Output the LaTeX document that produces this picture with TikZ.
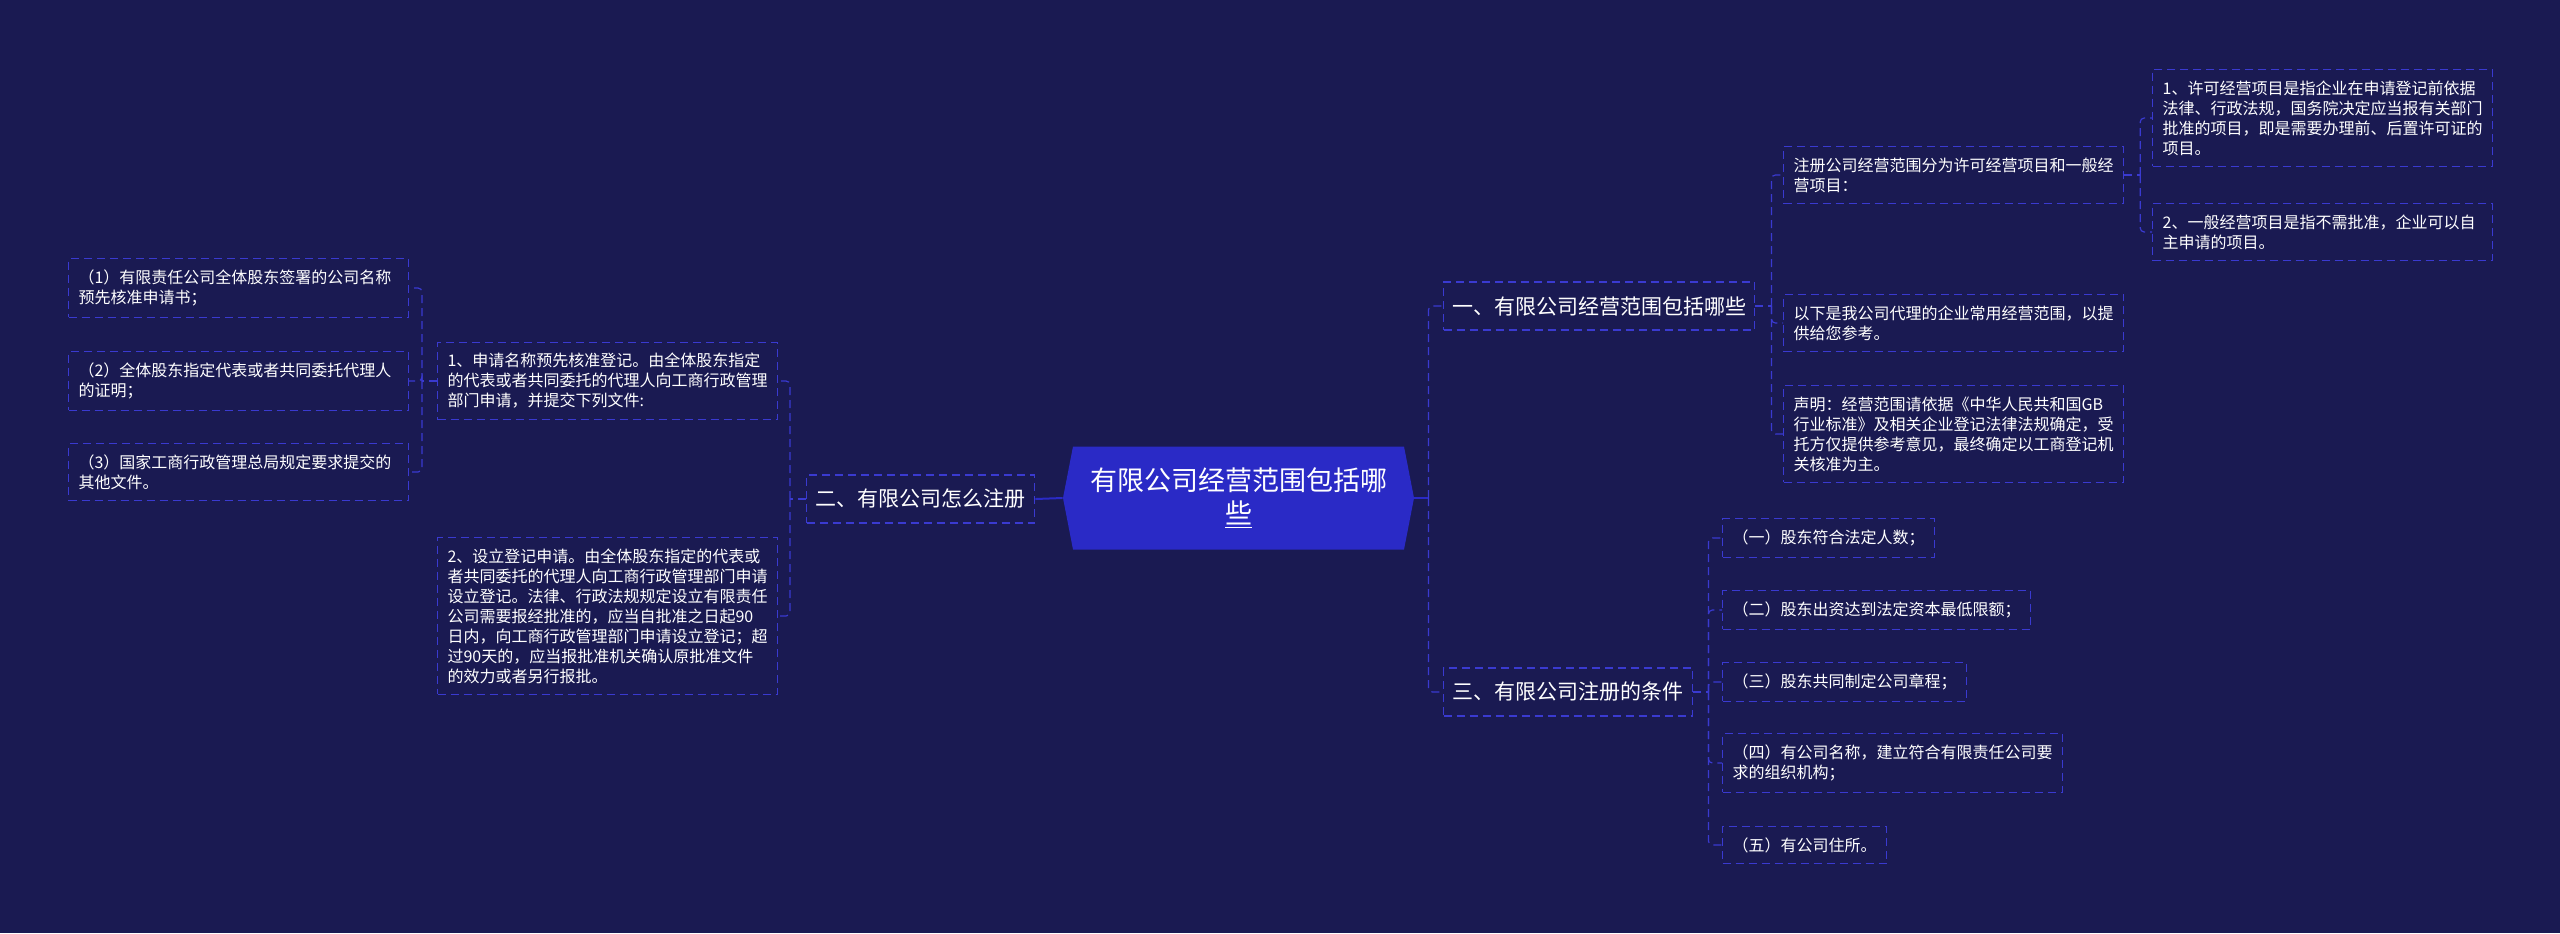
\documentclass[tikz,border=0pt]{standalone}
\usepackage{fontspec}
\setmainfont{Noto Sans CJK SC}
\usepackage{tikz}
\usepackage{xcolor}
\usetikzlibrary{calc}
\definecolor{backcolor}{HTML}{1A1A52}
\definecolor{hubcolor}{HTML}{2A2AC6}
\definecolor{linecolor}{HTML}{3A3AD0}
\colorlet{textcolor}{white}
\tikzstyle{hub} =[
    text=textcolor,
    font=\fontsize{13.5pt}{16.5pt}\selectfont,
    align=center,
    minimum width=175.5pt,
    minimum height=51.5pt,
    path picture={
        \fill[hubcolor] (path picture bounding box.west)
            -- ([xshift=5pt]path picture bounding box.north west)
            -- ([xshift=-5pt]path picture bounding box.north east)
            -- (path picture bounding box.east)
            -- ([xshift=-5pt]path picture bounding box.south east)
            -- ([xshift=5pt]path picture bounding box.south west) -- cycle;
    }
    ]
\tikzstyle{branch} = [
    draw=linecolor,
    dash pattern=on 4pt off 2.5pt,
    line width=0.7pt,
    text=textcolor,
    font=\fontsize{10.5pt}{13pt}\selectfont,
    minimum height=24pt,
    anchor=west
    ]
\tikzstyle{leaf} = [
    draw=linecolor,
    dash pattern=on 4pt off 2.5pt,
    line width=0.6pt,
    text=textcolor,
    font=\fontsize{8pt}{10pt}\selectfont,
    align=left,
    inner xsep=5pt,
    inner ysep=5.5pt,
    anchor=west
    ]
\tikzstyle{wide} = [text width=160pt]
\tikzstyle{link} = [draw=linecolor, dash pattern=on 4pt off 2.5pt, line width=0.6pt, rounded corners=2pt]
\tikzstyle{trunk} = [draw=hubcolor, line width=1pt]

\begin{document}
\begin{tikzpicture}[x=0.5pt,y=-0.5pt]
\fill[backcolor] (0,0) rectangle (2560,933);

\node[hub] (hub) at (1238.5,498) {有限公司经营范围包括哪\\\underline{些}};

\node[branch, minimum width=155.5pt] (b1) at (1443,306) {一、有限公司经营范围包括哪些};
\node[branch, minimum width=114pt] (b2) at (806,499) {二、有限公司怎么注册};
\node[branch, minimum width=124.5pt] (b3) at (1443,692) {三、有限公司注册的条件};

% branch one
\node[leaf, wide] (la) at (1783,175) {注册公司经营范围分为许可经营项目和一般经\\营项目：};
\node[leaf, wide] (la1) at (2152,118) {1、许可经营项目是指企业在申请登记前依据\\法律、行政法规，国务院决定应当报有关部门\\批准的项目，即是需要办理前、后置许可证的\\项目。};
\node[leaf, wide] (la2) at (2152,232) {2、一般经营项目是指不需批准，企业可以自\\主申请的项目。};
\node[leaf, wide] (lb) at (1783,323) {以下是我公司代理的企业常用经营范围，以提\\供给您参考。};
\node[leaf, wide] (lc) at (1783,434) {声明：经营范围请依据《中华人民共和国GB\\行业标准》及相关企业登记法律法规确定，受\\托方仅提供参考意见，最终确定以工商登记机\\关核准为主。};

% branch two
\node[leaf, wide] (l1) at (437,381) {1、申请名称预先核准登记。由全体股东指定\\的代表或者共同委托的代理人向工商行政管理\\部门申请，并提交下列文件:};
\node[leaf, wide] (l2) at (437,616) {2、设立登记申请。由全体股东指定的代表或\\者共同委托的代理人向工商行政管理部门申请\\设立登记。法律、行政法规规定设立有限责任\\公司需要报经批准的，应当自批准之日起90\\日内，向工商行政管理部门申请设立登记；超\\过90天的，应当报批准机关确认原批准文件\\的效力或者另行报批。};
\node[leaf, wide] (s1) at (68,288) {（1）有限责任公司全体股东签署的公司名称\\预先核准申请书；};
\node[leaf, wide] (s2) at (68,381) {（2）全体股东指定代表或者共同委托代理人\\的证明；};
\node[leaf, wide] (s3) at (68,472) {（3）国家工商行政管理总局规定要求提交的\\其他文件。};

% branch three
\node[leaf] (c1) at (1722,538) {（一）股东符合法定人数；};
\node[leaf] (c2) at (1722,610) {（二）股东出资达到法定资本最低限额；};
\node[leaf] (c3) at (1722,682) {（三）股东共同制定公司章程；};
\node[leaf] (c4) at (1722,763) {（四）有公司名称，建立符合有限责任公司要\\求的组织机构；};
\node[leaf] (c5) at (1722,845) {（五）有公司住所。};

% connectors
\draw[trunk] (hub.west) -- (b2.east);
\draw[trunk] (hub.east) -- ++(14,0) coordinate (jhub);
\draw[link] (jhub) |- (b1.west);
\draw[link] (jhub) |- (b3.west);

\draw[link] (b1.east) -- ++(16,0) coordinate (jb1);
\foreach \n in {la,lb,lc} \draw[link] (jb1) |- (\n.west);
\draw[link] (la.east) -- ++(16,0) coordinate (jla);
\foreach \n in {la1,la2} \draw[link] (jla) |- (\n.west);

\draw[link] (b2.west) -- ++(-16,0) coordinate (jb2);
\foreach \n in {l1,l2} \draw[link] (jb2) |- (\n.east);
\draw[link] (l1.west) -- ++(-15,0) coordinate (jl1);
\foreach \n in {s1,s2,s3} \draw[link] (jl1) |- (\n.east);

\draw[link] (b3.east) -- ++(15,0) coordinate (jb3);
\foreach \n in {c1,c2,c3,c4,c5} \draw[link] (jb3) |- (\n.west);
\end{tikzpicture}
\end{document}
